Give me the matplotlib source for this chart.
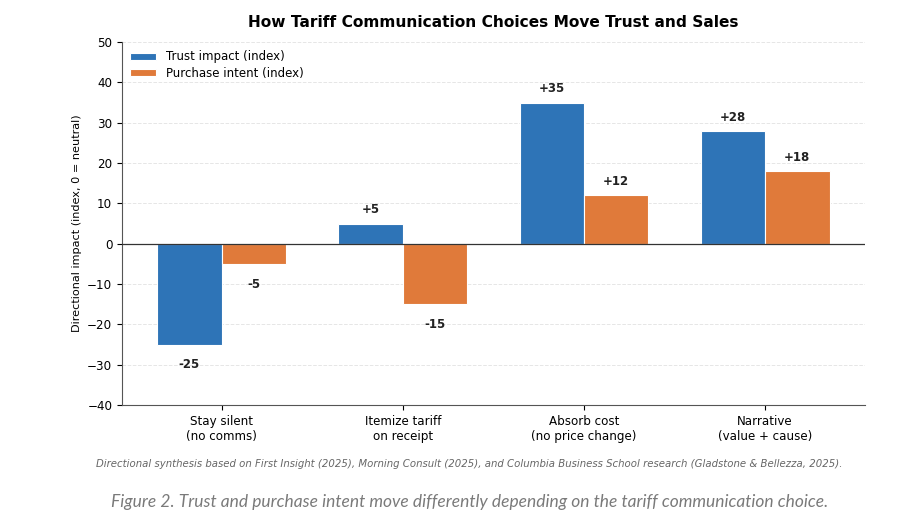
import matplotlib
matplotlib.use("Agg")
import matplotlib.pyplot as plt
import numpy as np

# data
categories = ["Stay silent\n(no comms)", "Itemize tariff\non receipt",
              "Absorb cost\n(no price change)", "Narrative\n(value + cause)"]
trust = [-25, 5, 35, 28]
purchase = [-5, -15, 12, 18]
series_names = ["Trust impact (index)", "Purchase intent (index)"]
y_ticks = [-40, -30, -20, -10, 0, 10, 20, 30, 40, 50]

blue = "#2E74B7"
orange = "#E07A3A"

fig = plt.figure(figsize=(9.22, 5.2), dpi=100)
ax = fig.add_axes([0.1323, 0.2212, 0.8057, 0.6978])

x = np.arange(len(categories))
w = 0.355
b1 = ax.bar(x - w / 2, trust, w, color=blue, edgecolor="white", linewidth=0.8,
            label=series_names[0], zorder=3)
b2 = ax.bar(x + w / 2, purchase, w, color=orange, edgecolor="white", linewidth=0.8,
            label=series_names[1], zorder=3)

# value labels above/below each bar
for bars, vals in [(b1, trust), (b2, purchase)]:
    for rect, v in zip(bars, vals):
        cx = rect.get_x() + rect.get_width() / 2
        if v >= 0:
            ax.text(cx, v + 1.8, f"+{v}", ha="center", va="bottom",
                    fontsize=8.5, fontweight="bold", color="#222222")
        else:
            ax.text(cx, v - 3.4, f"{v}", ha="center", va="top",
                    fontsize=8.5, fontweight="bold", color="#222222")

ax.axhline(0, color="#333333", linewidth=0.9, zorder=4)
ax.set_xlim(-0.55, 3.55)
ax.set_ylim(-40, 50)
ax.set_yticks(y_ticks)
ax.set_xticks(x)
ax.set_xticklabels(categories, fontsize=8.6)
ax.tick_params(axis="y", labelsize=8.6)
ax.set_ylabel("Directional impact (index, 0 = neutral)", fontsize=8.1)
ax.grid(axis="y", linestyle="--", color="#e6e6e6", linewidth=0.7, zorder=0)
ax.set_axisbelow(True)
for s in ["top", "right"]:
    ax.spines[s].set_visible(False)
for s in ["left", "bottom"]:
    ax.spines[s].set_color("#555555")

ax.set_title("How Tariff Communication Choices Move Trust and Sales",
             fontsize=11.1, fontweight="bold", pad=11)
ax.legend(loc="upper left", frameon=False, fontsize=8.5, handlelength=2.2,
          handleheight=0.5, borderaxespad=0.3, labelspacing=0.3)

fig.text(0.509, 0.108,
         "Directional synthesis based on First Insight (2025), Morning Consult (2025), "
         "and Columbia Business School research (Gladstone & Bellezza, 2025).",
         ha="center", va="center", fontsize=7.3, style="italic", color="#666666")
fig.text(0.509, 0.034,
         "Figure 2. Trust and purchase intent move differently depending on the tariff communication choice.",
         ha="center", va="center", fontsize=12.5, style="italic", color="#7a7a7a",
         family=["Lato", "DejaVu Sans"])

fig.savefig("out.png", dpi=100)
